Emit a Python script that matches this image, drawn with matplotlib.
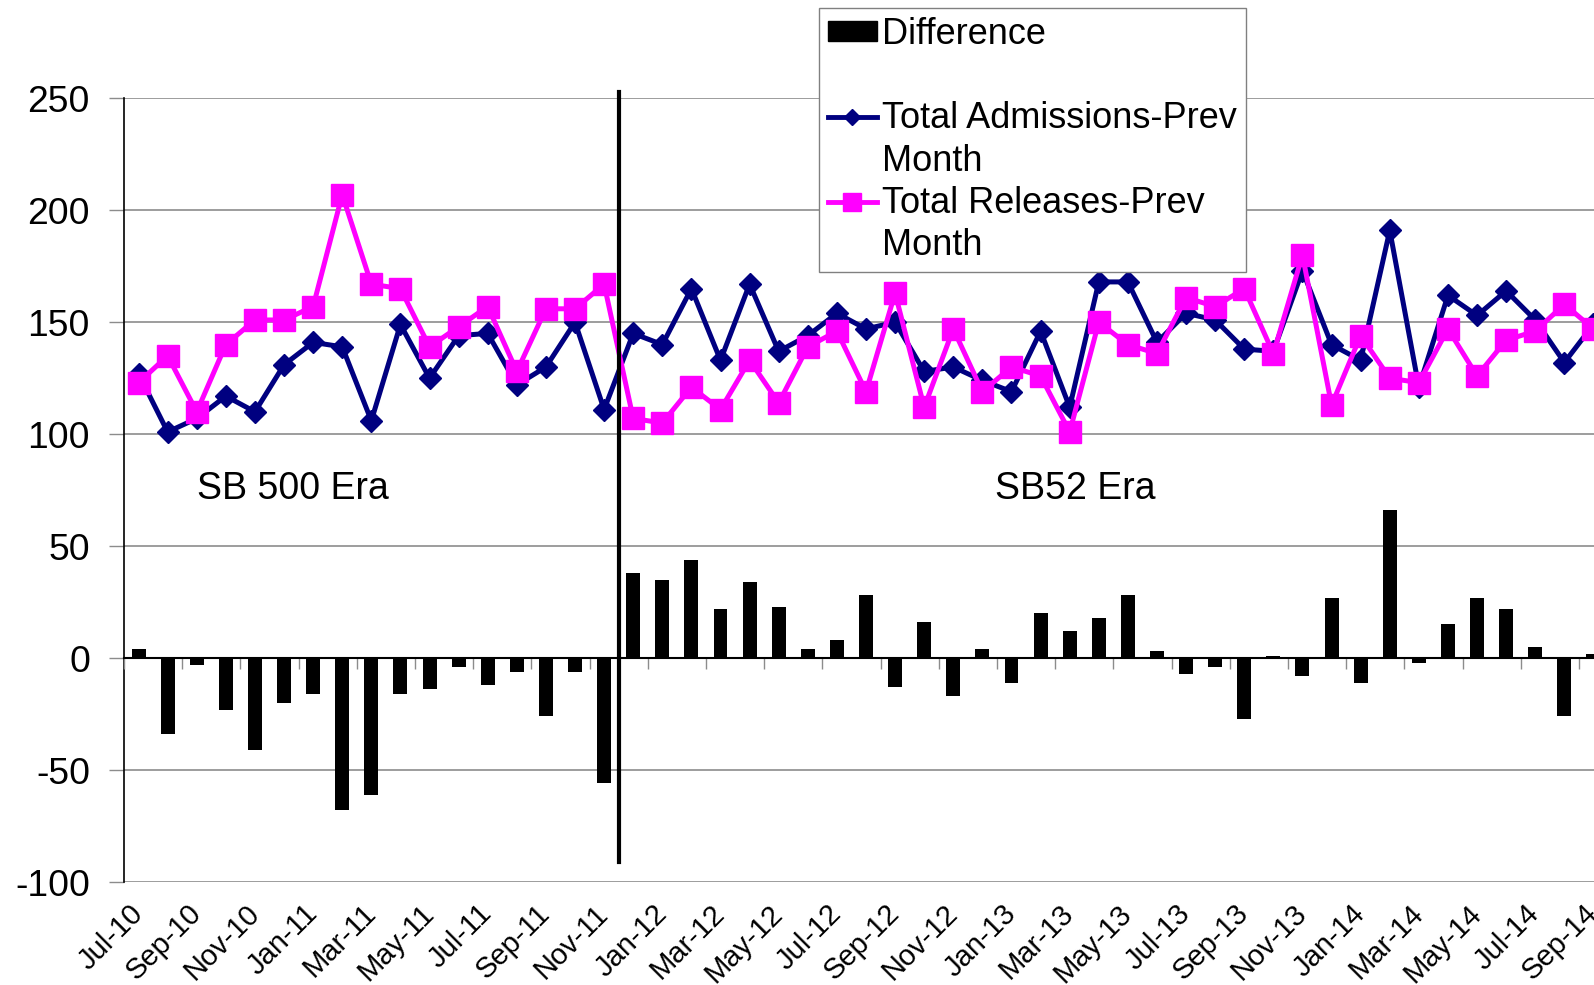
import matplotlib
matplotlib.use('Agg')
import matplotlib.pyplot as plt
from matplotlib.lines import Line2D
from matplotlib.patches import Patch
import numpy as np

plt.rcParams['font.family'] = ['Liberation Sans', 'DejaVu Sans']
plt.rcParams['axes.unicode_minus'] = False

months = ['Jul-10', 'Aug-10', 'Sep-10', 'Oct-10', 'Nov-10', 'Dec-10',
          'Jan-11', 'Feb-11', 'Mar-11', 'Apr-11', 'May-11', 'Jun-11',
          'Jul-11', 'Aug-11', 'Sep-11', 'Oct-11', 'Nov-11', 'Dec-11',
          'Jan-12', 'Feb-12', 'Mar-12', 'Apr-12', 'May-12', 'Jun-12',
          'Jul-12', 'Aug-12', 'Sep-12', 'Oct-12', 'Nov-12', 'Dec-12',
          'Jan-13', 'Feb-13', 'Mar-13', 'Apr-13', 'May-13', 'Jun-13',
          'Jul-13', 'Aug-13', 'Sep-13', 'Oct-13', 'Nov-13', 'Dec-13',
          'Jan-14', 'Feb-14', 'Mar-14', 'Apr-14', 'May-14', 'Jun-14',
          'Jul-14', 'Aug-14', 'Sep-14']

admissions = [127, 101, 107, 117, 110, 131, 141, 139, 106, 149, 125, 144,
              145, 122, 130, 150, 111, 145, 140, 165, 133, 167, 137, 144,
              154, 147, 150, 128, 130, 124, 119, 146, 112, 168, 168, 141,
              154, 151, 138, 137, 173, 140, 133, 191, 121, 162, 153, 164,
              151, 132, 149]

releases = [123, 135, 110, 140, 151, 151, 157, 207, 167, 165, 139, 148,
            157, 128, 156, 156, 167, 107, 105, 121, 111, 133, 114, 139,
            146, 119, 163, 112, 147, 119, 130, 126, 101, 150, 140, 136,
            161, 157, 165, 136, 180, 113, 144, 125, 123, 147, 126, 142,
            146, 158, 147]

difference = [4, -34, -3, -23, -41, -20, -16, -68, -61, -16, -14, -4,
              -12, -6, -26, -6, -56, 38, 35, 44, 22, 34, 23, 4,
              8, 28, -13, 16, -17, 4, -11, 20, 12, 18, 28, 3,
              -7, -4, -27, 1, -8, 27, -11, 66, -2, 15, 27, 22,
              5, -26, 2]

era_labels = ['SB 500 Era', 'SB52 Era']
last_month_era1 = 'Nov-11'

NAVY = '#000080'
MAGENTA = '#FF00FF'
GRID = '#8c8c8c'

W, H = 1594, 985
fig = plt.figure(figsize=(W / 100, H / 100), dpi=100)
ax = fig.add_axes([124 / W, 103 / H, 1484 / W, 783.7 / H])

x = np.arange(len(months))
ax.bar(x, difference, width=0.48, color='black', zorder=2)
ax.plot(x, admissions, color=NAVY, lw=3.6, marker='D', ms=11, zorder=3)
ax.plot(x, releases, color=MAGENTA, lw=3.6, marker='s', ms=16, zorder=4)

ax.set_xlim(-0.5, len(months) - 0.5)
ax.set_ylim(-100, 250)
ax.set_yticks(np.arange(-100, 251, 50))
ax.yaxis.grid(True, color=GRID, lw=1.2)
ax.set_axisbelow(True)
for s in ['top', 'right', 'bottom']:
    ax.spines[s].set_visible(False)
ax.spines['left'].set_color('black')
ax.spines['left'].set_linewidth(1.2)
ax.tick_params(axis='y', direction='out', length=11, width=1, color=GRID,
               pad=13.5, labelsize=26.8)

ax.set_xticks(x[::2])
ax.set_xticklabels(months[::2], rotation=45, ha='right', va='center',
                   rotation_mode='anchor', fontsize=21)
ax.tick_params(axis='x', length=0, pad=19.5)

# zero axis line with category-boundary ticks
ax2 = ax.twiny()
ax2.set_xlim(ax.get_xlim())
for s in ['top', 'right', 'left']:
    ax2.spines[s].set_visible(False)
ax2.spines['bottom'].set_position(('data', 0))
ax2.spines['bottom'].set_color('black')
ax2.spines['bottom'].set_linewidth(1.5)
ax2.xaxis.set_ticks_position('bottom')
ax2.set_xticks(np.arange(-0.5, len(months), 2))
ax2.tick_params(axis='x', direction='out', length=8, width=1, color=GRID,
                labelbottom=False, labeltop=False)

# era separator
boundary = months.index(last_month_era1) + 0.5
ax.plot([boundary, boundary], [0.0255, 1.008], color='black', lw=3,
        transform=ax.get_xaxis_transform(), clip_on=False, zorder=6)

ax.text(5.3, 75.6, era_labels[0], fontsize=27, ha='center', va='center')
ax.text(32.2, 75.6, era_labels[1], fontsize=27, ha='center', va='center')

handles = [Patch(facecolor='black', edgecolor='black'),
           Line2D([], [], linestyle='none'),
           Line2D([], [], color=NAVY, lw=3.5, marker='D', ms=8.5),
           Line2D([], [], linestyle='none'),
           Line2D([], [], color=MAGENTA, lw=3.5, marker='s', ms=13),
           Line2D([], [], linestyle='none')]
labels = ['Difference', ' ', 'Total Admissions-Prev', 'Month',
          'Total Releases-Prev', 'Month']
leg = fig.legend(handles, labels, loc='upper left',
                 bbox_to_anchor=(819 / W, 1 - 8 / H), frameon=True,
                 fancybox=False, edgecolor='#808080', framealpha=1,
                 fontsize=26, handlelength=1.35, handleheight=0.46,
                 handletextpad=0.15, labelspacing=0.2, borderpad=0.25,
                 borderaxespad=0)
leg.get_frame().set_linewidth(1)

fig.savefig('out.png', dpi=100)
